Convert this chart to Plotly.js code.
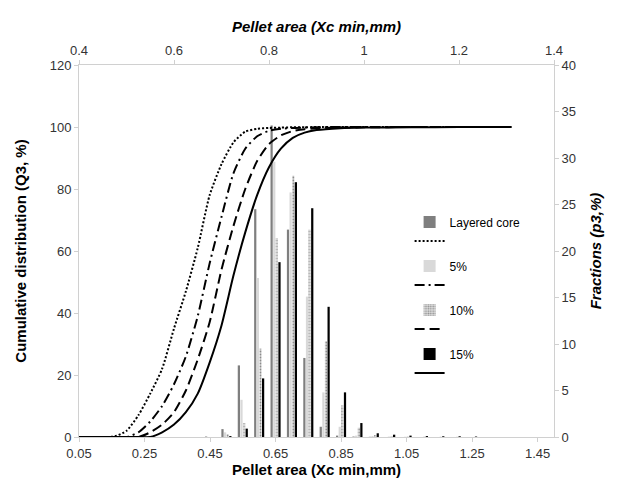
<!DOCTYPE html>
<html>
<head>
<meta charset="utf-8">
<script src="https://cdn.plot.ly/plotly-3.0.1.min.js"></script>
<style>html,body{margin:0;padding:0;background:#fff}#chart{width:617px;height:488px}</style>
</head>
<body>
<div id="chart"></div>
<script>
// Bar fractions p3 (%) per size class (bottom axis, right y axis)
const barX = [0.45,0.50,0.55,0.60,0.65,0.70,0.75,0.80,0.85,0.90,0.95,1.00,1.05,1.10,1.15,1.20,1.25];
const pLayered = [0.05,0.85,7.7,24.5,33.5,22.3,8.5,1.1,0.15,0.05,0.02,0,0,0,0,0,0];
const p5  = [0,0.5,4.0,17.1,29.6,26.3,15.1,4.8,1.1,0.15,0.1,0.05,0.03,0,0,0,0];
const p10 = [0,0.3,1.5,9.5,21.4,28.1,22.3,10.3,3.4,1.0,0.2,0.1,0.05,0.05,0.03,0.03,0];
const p15 = [0,0.1,0.9,6.3,18.8,27.4,24.6,14.0,4.8,1.5,0.4,0.25,0.15,0.1,0.08,0.08,0.05];

// Cumulative Q3 (%) (top axis, left y axis)
const qX = [0.40,0.45,0.475,0.50,0.525,0.55,0.575,0.60,0.625,0.65,0.675,0.70,0.725,0.75,0.775,0.80,0.825,0.85,0.875,0.90,0.95,1.00,1.10,1.20,1.31];
const qLayered = [0,0,0.2,2,7,14,22,35,47,61,78,88,95,98.5,99.4,99.7,99.8,99.9,99.9,100,100,100,100,100,100];
const q5  = [0,0,0,0,1.5,5,10,17,26,39,56,71,85,93,97,98.8,99.4,99.7,99.8,99.9,100,100,100,100,100];
const q10 = [0,0,0,0,0,1.5,4,8,15,25,37,54,68,80,89,94.5,97.3,98.7,99.3,99.6,99.8,99.9,100,100,100];
const q15 = [0,0,0,0,0,0,1.5,4,8,14,24,36,52,66,78,87,93,96.5,98.2,99,99.6,99.8,99.9,100,100];

const names = ['Layered core','5%','10%','15%'];

const font = 'Liberation Sans, Arial, sans-serif';
const bars = [
  {y:pLayered, marker:{color:'#7f7f7f'}},
  {y:p5, marker:{color:'#d9d9d9'}},
  {y:p10, marker:{color:'#bdbdbd', pattern:{shape:'.', fgcolor:'#8c8c8c', bgcolor:'#e0e0e0', size:3, solidity:0.4}}},
  {y:p15, marker:{color:'#000000'}}
];
const lines = [
  {y:qLayered, dash:'2px,2px'},
  {y:q5, dash:'10px,4px,2px,4px'},
  {y:q10, dash:'10px,5px'},
  {y:q15, dash:'solid'}
];
const data = [];
for (let i=0;i<4;i++){
  data.push({type:'bar', x:barX, y:bars[i].y, name:names[i], marker:bars[i].marker,
    xaxis:'x', yaxis:'y', legendgroup:'g'+i, legendrank:2*i+1});
  data.push({type:'scatter', mode:'lines', x:qX, y:lines[i].y, name:' ', showlegend:true,
    line:{color:'#000', width:2, dash:lines[i].dash, shape:'spline', smoothing:0.6},
    xaxis:'x2', yaxis:'y2', legendgroup:'g'+i, legendrank:2*i+2});
}

const axisCommon = {showgrid:false, zeroline:false, showline:true, linecolor:'#d0d0d0', linewidth:1,
  ticks:'outside', tickcolor:'#d0d0d0', ticklen:4, tickfont:{family:font, size:13, color:'#333'}};

const layout = {
  width:617, height:488,
  margin:{l:79, r:63, t:65, b:51},
  paper_bgcolor:'#fff', plot_bgcolor:'#fff',
  font:{family:font, color:'#000'},
  barmode:'group', bargap:0.36, bargroupgap:0.15,
  showlegend:true,
  legend:{x:0.696, y:0.617, xanchor:'left', yanchor:'top', traceorder:'grouped', tracegroupgap:6,
    font:{family:font, size:12, color:'#000'}, bgcolor:'rgba(0,0,0,0)', itemwidth:30},
  xaxis:Object.assign({}, axisCommon, {range:[0.05,1.5], tick0:0.05, dtick:0.2, tickformat:'.2f',
    title:{text:'<b>Pellet area (Xc min,mm)</b>', font:{family:font, size:15}, standoff:4}}),
  xaxis2:Object.assign({}, axisCommon, {overlaying:'x', side:'top', anchor:'y2', range:[0.4,1.4],
    tickvals:[0.4,0.6,0.8,1,1.2,1.4], ticktext:['0.4','0.6','0.8','1','1.2','1.4'],
    title:{text:'<b><i>Pellet area (Xc min,mm)</i></b>', font:{family:font, size:15}, standoff:6}}),
  yaxis:Object.assign({}, axisCommon, {side:'right', range:[0,40], dtick:5,
    title:{text:'<b><i>Fractions (p3,%)</i></b>', font:{family:font, size:15}, standoff:15}}),
  yaxis2:Object.assign({}, axisCommon, {overlaying:'y', side:'left', anchor:'x', range:[0,120], dtick:20,
    title:{text:'<b>Cumulative distribution (Q3, %)</b>', font:{family:font, size:15}, standoff:19}})
};

Plotly.newPlot('chart', data, layout, {displayModeBar:false, staticPlot:true});
</script>
</body>
</html>
